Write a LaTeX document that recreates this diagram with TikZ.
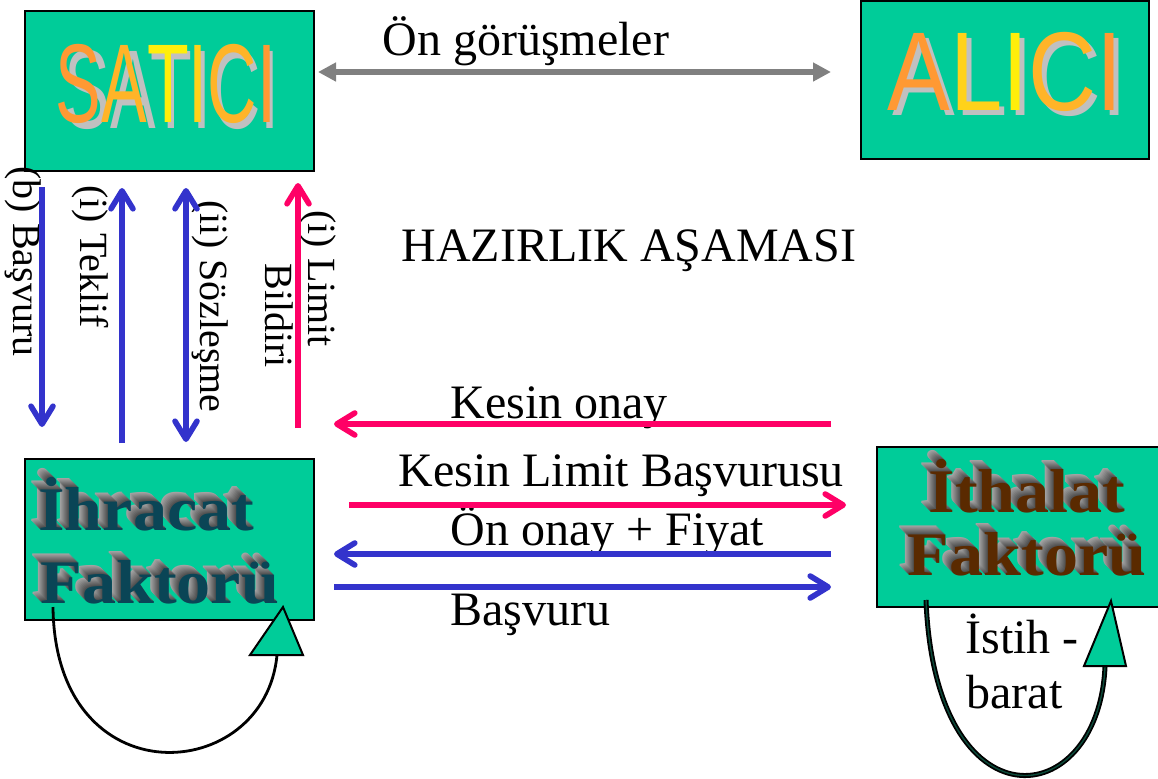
\documentclass[tikz,border=0pt]{standalone}
\usepackage{fontspec}
\setmainfont{Liberation Serif}
\newfontfamily\arialf{Liberation Sans}
\usetikzlibrary{arrows.meta,calc}
\definecolor{boxgreen}{HTML}{00CC99}
\definecolor{arblue}{HTML}{3333CC}
\definecolor{arred}{HTML}{FF0066}
\definecolor{argray}{HTML}{808080}
\definecolor{wshadow}{HTML}{C0C0C0}
\definecolor{orA}{HTML}{FF9933}
\definecolor{orB}{HTML}{FFB428}
\definecolor{orC}{HTML}{FFD21A}
\definecolor{orD}{HTML}{FFEE0A}
\definecolor{tealface}{HTML}{0A4556}
\definecolor{brownface}{HTML}{5A2A00}
\definecolor{loopin}{HTML}{0B4A3A}
\tikzset{
 box/.style={draw=black, line width=1pt, fill=boxgreen, inner sep=0pt},
 lbl/.style={inner sep=0pt, anchor=base west, font=\fontsize{24}{28}\selectfont},
 vlbl/.style={inner sep=0pt, font=\fontsize{20}{24}\selectfont, rotate=-90, anchor=base west},
 barb/.style={line width=2.8pt, -{Straight Barb[length=9pt,width=11pt,round]}},
 dbarb/.style={line width=2.8pt, {Straight Barb[length=9pt,width=11pt,round]}-{Straight Barb[length=9pt,width=11pt,round]}},
 gtri/.style={line width=2.8pt, argray, {Triangle[length=9pt,width=9pt]}-{Triangle[length=9pt,width=9pt]}},
 wordart/.style={inner sep=0pt, anchor=base, font=\arialf\fontsize{56}{60}\selectfont},
 wadd/.style={inner sep=0pt, font=\bfseries\fontsize{31}{34}\selectfont, xscale=1.1},
 loopline/.style={line width=1.4pt, draw=black},
 tri/.style={draw=black, line width=1pt, fill=boxgreen},
}
\newcommand\extxt[5]{%
  \foreach \k in {9,...,1}{%
    \node[wadd, anchor=#2, text=black!\the\numexpr 72-4*\k\relax] at ($(#1)+(-\k,-\k)$) {#4};}
  \node[wadd, anchor=#2, text=#3] (#5) at (#1) {#4};}
\begin{document}
\begin{tikzpicture}[x=0.5pt,y=-0.5pt]
\useasboundingbox (0,0) rectangle (1158,778);
% boxes
\node[box, minimum width=144.5pt, minimum height=80pt] (satici) at (169.5,91) {};
\node[box, minimum width=144pt, minimum height=79pt] (alici) at (1005,80) {};
\node[box, minimum width=144.5pt, minimum height=80.5pt] (ihr) at (169.5,539.5) {};
\node[box, minimum width=142.5pt, minimum height=80pt] (ith) at (1019.5,527) {};
% word art titles
\node[wordart, text=wshadow, xscale=0.61] (satsh) at (172,128) {SATICI};
\node[wordart, xscale=0.61] (sattx) at (166,122) {\textcolor{orA}{S}\textcolor{orB}{A}\textcolor{orD}{T}\textcolor{orC}{I}\textcolor{orB}{C}\textcolor{orA}{I}};
\node[wordart, text=wshadow, xscale=0.84] (alsh) at (1010,115) {ALICI};
\node[wordart, xscale=0.84] (altx) at (1005,110) {\textcolor{orA}{A}\textcolor{orC}{L}\textcolor{orD}{I}\textcolor{orB}{C}\textcolor{orA}{I}};
% 3D texts
\extxt{38,530}{base west}{tealface}{İhracat}{ihr1}
\extxt{40,603}{base west}{tealface}{Faktorü}{ihr2}
\extxt{1027,512}{base}{brownface}{İthalat}{ith1}
\extxt{1027,575}{base}{brownface}{Faktorü}{ith2}
% labels
\node[lbl] (ong) at (382,55) {Ön görüşmeler};
\node[lbl] (haz) at (401,261) {HAZIRLIK AŞAMASI};
\node[lbl] (kon) at (450,418) {Kesin onay};
\node[lbl] (klb) at (398,486) {Kesin Limit Başvurusu};
\node[lbl] (oof) at (450,545) {Ön onay + Fiyat};
\node[lbl] (bsv) at (450,625) {Başvuru};
\node[lbl] (ist1) at (965,653) {İstih -};
\node[lbl] (ist2) at (966,708) {barat};
% vertical labels
\node[vlbl] (vb) at (13,166) {(b) Başvuru};
\node[vlbl] (vt) at (80,185) {(i) Teklif};
\node[vlbl] (vs) at (200,200) {(ii) Sözleşme};
\node[vlbl] (vl1) at (308,210) {(i) Limit};
\node[vlbl] (vl2) at (265,263) {Bildiri};
% connector end points
\coordinate (g1) at (318,72); \coordinate (g2) at (831,72);
\coordinate (b1) at (42,187); \coordinate (b2) at (42,427);
\coordinate (t1) at (122,443); \coordinate (t2) at (122,188);
\coordinate (s1) at (186,188); \coordinate (s2) at (186,442);
\coordinate (l1) at (298,428); \coordinate (l2) at (298,183);
\coordinate (h1a) at (831,424); \coordinate (h1b) at (334,424);
\coordinate (h2a) at (349,505); \coordinate (h2b) at (846,505);
\coordinate (h3a) at (831,554); \coordinate (h3b) at (334,554);
\coordinate (h4a) at (334,587); \coordinate (h4b) at (831,587);
% arrows
\draw[gtri] (g1) -- (g2);
\draw[barb, arblue] (b1) -- (b2);
\draw[barb, arblue] (t1) -- (t2);
\draw[dbarb, arblue] (s1) -- (s2);
\draw[barb, arred] (l1) -- (l2);
\draw[barb, arred] (h1a) -- (h1b);
\draw[barb, arred] (h2a) -- (h2b);
\draw[barb, arblue] (h3a) -- (h3b);
\draw[barb, arblue] (h4a) -- (h4b);
% loops
\coordinate (la1) at (53,607); \coordinate (la2) at (277,655);
\draw[loopline] (la1) .. controls (55,800) and (265,785) .. (la2);
\draw[tri] (283,607) -- (250,655) -- (303,655) -- cycle;
\coordinate (lb1) at (926,600); \coordinate (lb2) at (1105,667);
\draw[line width=0.9pt, draw=black, double=loopin, double distance=0.7pt] (lb1) .. controls (935,830) and (1098,814) .. (lb2);
\draw[tri] (1111,601) -- (1084,666) -- (1126,666) -- cycle;
\end{tikzpicture}
\end{document}
